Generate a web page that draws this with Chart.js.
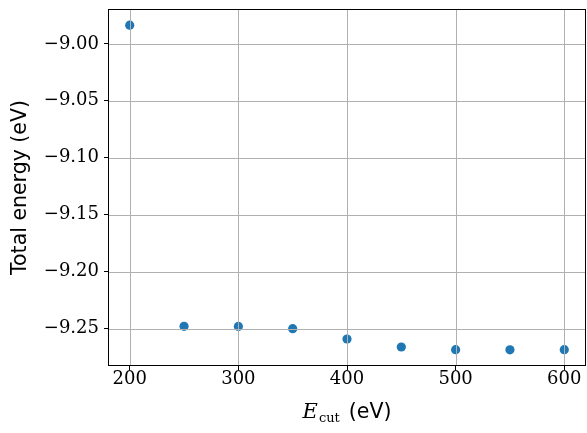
<!DOCTYPE html>
<html>
<head>
<meta charset="utf-8">
<script src="https://cdn.jsdelivr.net/npm/chart.js@4"></script>
<style>
  html, body { margin: 0; padding: 0; background: #fff; }
  #c { display: block; }
</style>
</head>
<body>
<canvas id="c" width="587" height="433" style="width:587px;height:433px"></canvas>
<script>
// ---- data ----
const cutoffEnergies = [200, 250, 300, 350, 400, 450, 500, 550, 600];            // eV
const totalEnergies  = [-8.9836, -9.2480, -9.2481, -9.2500, -9.2591, -9.2661, -9.2685, -9.2686, -9.2685]; // eV
const xTickValues = [200, 300, 400, 500, 600];
const yTickValues = [-9.25, -9.20, -9.15, -9.10, -9.05, -9.00];
const xRange = [180, 620];
const yRange = [-9.2828, -8.9694];
const yAxisTitle = 'Total energy (eV)';
const xTitleParts = { symbol: 'E', sub: 'cut', unit: '(eV)' };

const GRID_COLOR = '#b0b0b0';
const POINT_COLOR = '#1f77b4';

const gridAndFrame = {
  id: 'gridAndFrame',
  afterDatasetsDraw(chart) {
    const {ctx, chartArea: a, scales: {x, y}} = chart;
    ctx.save();
    ctx.strokeStyle = GRID_COLOR;
    ctx.lineWidth = 1;
    ctx.beginPath();
    xTickValues.forEach(v => {
      const px = Math.round(x.getPixelForValue(v)) + 0.5;
      ctx.moveTo(px, a.top); ctx.lineTo(px, a.bottom);
    });
    yTickValues.forEach(v => {
      const py = Math.round(y.getPixelForValue(v)) + 0.5;
      ctx.moveTo(a.left, py); ctx.lineTo(a.right, py);
    });
    ctx.stroke();
    ctx.strokeStyle = '#000';
    ctx.lineWidth = 1;
    const l = Math.round(a.left) + 0.5, t = Math.round(a.top) + 0.5;
    const r = Math.round(a.right) - 0.5, b = Math.round(a.bottom) - 0.5;
    ctx.strokeRect(l, t, r - l, b - t);
    ctx.restore();
  },
  afterDraw(chart) {
    const {ctx, chartArea: a} = chart;
    ctx.save();
    ctx.fillStyle = '#000';
    ctx.textBaseline = 'alphabetic';
    const fE = 'italic 21px "DejaVu Serif"';
    const fSub = '13px "DejaVu Serif"';
    const fUnit = '20.5px "DejaVu Sans"';
    ctx.font = fE; const wE = ctx.measureText(xTitleParts.symbol).width;
    ctx.font = fSub; const wS = ctx.measureText(xTitleParts.sub).width;
    ctx.font = fUnit; const wU = ctx.measureText(xTitleParts.unit).width;
    const gap = 9;
    const total = wE + 1 + wS + gap + wU;
    let xs = (a.left + a.right) / 2 - total / 2;
    const base = 418;
    ctx.font = fE; ctx.fillText(xTitleParts.symbol, xs, base); xs += wE + 1;
    ctx.font = fSub; ctx.fillText(xTitleParts.sub, xs, base + 3.5); xs += wS + gap;
    ctx.font = fUnit; ctx.fillText(xTitleParts.unit, xs, base);
    ctx.restore();
  }
};

const tickFont = { family: 'DejaVu Serif', size: 18, lineHeight: 1 };

new Chart(document.getElementById('c'), {
  type: 'scatter',
  data: {
    datasets: [{
      data: cutoffEnergies.map((e, i) => ({ x: e, y: totalEnergies[i] })),
      backgroundColor: POINT_COLOR,
      borderWidth: 0,
      pointRadius: 4.6,
      pointHoverRadius: 4.6
    }]
  },
  options: {
    responsive: false,
    animation: false,
    devicePixelRatio: 1,
    layout: { autoPadding: false, padding: { top: 9, right: 1, bottom: 0, left: 0 } },
    plugins: { legend: { display: false }, tooltip: { enabled: false } },
    scales: {
      x: {
        type: 'linear',
        min: xRange[0], max: xRange[1],
        afterBuildTicks: s => { s.ticks = xTickValues.map(v => ({ value: v })); },
        afterFit: s => { s.height = 67; s.paddingLeft = 0; s.paddingRight = 0; s.paddingTop = 0; s.paddingBottom = 0; },
        border: { display: false },
        grid: { drawOnChartArea: false, drawTicks: true, tickLength: 4, tickColor: '#000', tickWidth: 1 },
        ticks: { font: tickFont, color: '#000', padding: 0, maxRotation: 0, autoSkip: false,
                 callback: v => String(v) }
      },
      y: {
        type: 'linear',
        min: yRange[0], max: yRange[1],
        afterBuildTicks: s => { s.ticks = yTickValues.map(v => ({ value: v })); },
        afterFit: s => { s.width = 108; s.paddingLeft = 0; s.paddingRight = 0; s.paddingTop = 0; s.paddingBottom = 0; },
        border: { display: false },
        grid: { drawOnChartArea: false, drawTicks: true, tickLength: 4, tickColor: '#000', tickWidth: 1 },
        ticks: { font: tickFont, color: '#000', padding: 5, autoSkip: false,
                 callback: v => (v < 0 ? '\u2212' : '') + Math.abs(v).toFixed(2) },
        title: { display: true, text: yAxisTitle, color: '#000',
                 font: { family: 'DejaVu Sans', size: 20.5, lineHeight: 1.2 },
                 padding: { top: 8, bottom: 0 } }
      }
    }
  },
  plugins: [gridAndFrame]
});
</script>
</body>
</html>
